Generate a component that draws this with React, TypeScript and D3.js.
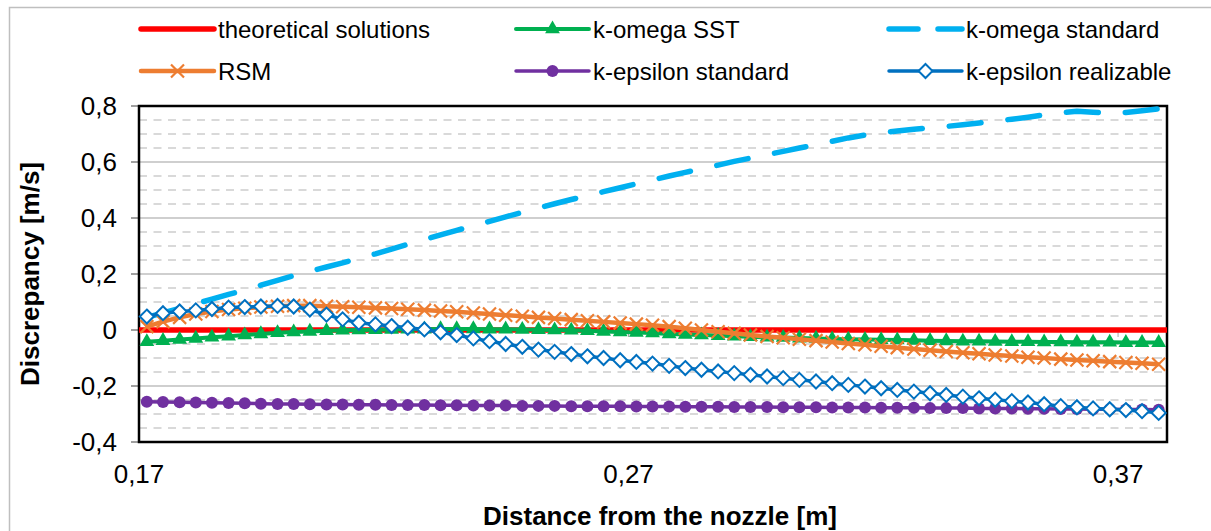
import React from "react";
import * as d3 from "d3";

// distance from the nozzle [m]
const distance = [
  0.1716, 0.1749, 0.1783, 0.1816, 0.1849, 0.1883, 0.1916, 0.1949, 0.1983, 0.2016,
  0.2049, 0.2083, 0.2116, 0.2149, 0.2183, 0.2216, 0.2249, 0.2283, 0.2316, 0.2349,
  0.2383, 0.2416, 0.2449, 0.2483, 0.2516, 0.2549, 0.2583, 0.2616, 0.2649, 0.2683,
  0.2716, 0.2749, 0.2783, 0.2816, 0.2849, 0.2883, 0.2916, 0.2949, 0.2983, 0.3016,
  0.3049, 0.3083, 0.3116, 0.3149, 0.3183, 0.3216, 0.3249, 0.3283, 0.3316, 0.3349,
  0.3383, 0.3416, 0.3449, 0.3483, 0.3516, 0.3549, 0.3583, 0.3616, 0.3649, 0.3683,
  0.3716, 0.3749, 0.3783,
];

const theoryDistance = [0.17, 0.38];
const theoretical = [0, 0];

const kOmegaSST = [
  -0.042, -0.038, -0.034, -0.030, -0.026, -0.022, -0.018, -0.014, -0.010, -0.007,
  -0.005, -0.003, -0.001, 0.000, 0.001, 0.002, 0.003, 0.003, 0.004, 0.004,
  0.004, 0.003, 0.003, 0.002, 0.001, 0.000, -0.001, -0.003, -0.005, -0.007,
  -0.009, -0.011, -0.014, -0.016, -0.018, -0.020, -0.022, -0.024, -0.026, -0.027,
  -0.029, -0.030, -0.032, -0.033, -0.034, -0.035, -0.036, -0.037, -0.038, -0.039,
  -0.040, -0.040, -0.041, -0.042, -0.042, -0.043, -0.043, -0.044, -0.044, -0.044,
  -0.045, -0.045, -0.045,
];

const kOmegaStandard = [
  0.045, 0.061, 0.077, 0.094, 0.110, 0.127, 0.143, 0.160, 0.177, 0.194,
  0.210, 0.225, 0.240, 0.256, 0.272, 0.289, 0.306, 0.323, 0.340, 0.356,
  0.372, 0.388, 0.404, 0.420, 0.436, 0.451, 0.466, 0.480, 0.494, 0.508,
  0.522, 0.536, 0.550, 0.563, 0.576, 0.589, 0.602, 0.614, 0.626, 0.638,
  0.650, 0.662, 0.674, 0.686, 0.696, 0.704, 0.711, 0.717, 0.722, 0.727,
  0.733, 0.739, 0.746, 0.753, 0.760, 0.768, 0.776, 0.781, 0.778, 0.775,
  0.777, 0.783, 0.790,
];

const rsm = [
  0.012, 0.030, 0.045, 0.057, 0.066, 0.073, 0.078, 0.082, 0.085, 0.087,
  0.087, 0.085, 0.083, 0.081, 0.079, 0.077, 0.074, 0.071, 0.068, 0.065,
  0.061, 0.057, 0.053, 0.049, 0.045, 0.041, 0.037, 0.033, 0.029, 0.025,
  0.021, 0.017, 0.012, 0.006, 0.000, -0.006, -0.012, -0.018, -0.023, -0.028,
  -0.033, -0.038, -0.043, -0.048, -0.053, -0.058, -0.063, -0.068, -0.072, -0.077,
  -0.081, -0.085, -0.089, -0.093, -0.097, -0.100, -0.104, -0.107, -0.110, -0.113,
  -0.116, -0.119, -0.122,
];

const kEpsilonStandard = [
  -0.256, -0.257, -0.258, -0.259, -0.260, -0.261, -0.262, -0.263, -0.264, -0.264,
  -0.265, -0.266, -0.266, -0.267, -0.267, -0.268, -0.268, -0.268, -0.269, -0.269,
  -0.270, -0.270, -0.270, -0.271, -0.271, -0.271, -0.272, -0.272, -0.272, -0.272,
  -0.273, -0.273, -0.273, -0.274, -0.274, -0.274, -0.275, -0.275, -0.275, -0.276,
  -0.276, -0.276, -0.277, -0.277, -0.277, -0.278, -0.278, -0.278, -0.279, -0.279,
  -0.279, -0.280, -0.280, -0.280, -0.281, -0.281, -0.282, -0.282, -0.283, -0.283,
  -0.284, -0.284, -0.285,
];

const kEpsilonRealizable = [
  0.048, 0.060, 0.066, 0.070, 0.075, 0.080, 0.082, 0.084, 0.086, 0.084,
  0.073, 0.055, 0.038, 0.026, 0.020, 0.014, 0.008, 0.002, -0.008, -0.018,
  -0.030, -0.040, -0.050, -0.060, -0.070, -0.078, -0.086, -0.094, -0.100, -0.108,
  -0.114, -0.120, -0.128, -0.136, -0.142, -0.148, -0.154, -0.160, -0.166, -0.172,
  -0.178, -0.184, -0.190, -0.196, -0.202, -0.208, -0.214, -0.220, -0.226, -0.232,
  -0.238, -0.244, -0.249, -0.254, -0.259, -0.265, -0.272, -0.276, -0.280, -0.283,
  -0.286, -0.290, -0.296,
];

const xTickValues = [0.17, 0.27, 0.37];

type Marker = "none" | "triangle" | "x" | "circle" | "diamond";

interface Series {
  name: string;
  xs: number[];
  ys: number[];
  color: string;
  width: number;
  dash?: string;
  marker: Marker;
}

const series: Series[] = [
  { name: "theoretical solutions", xs: theoryDistance, ys: theoretical, color: "#FF0000", width: 5.5, marker: "none" },
  { name: "k-omega SST", xs: distance, ys: kOmegaSST, color: "#00B050", width: 4, marker: "triangle" },
  { name: "k-omega standard", xs: distance, ys: kOmegaStandard, color: "#00B0F0", width: 5.5, dash: "32 27", marker: "none" },
  { name: "RSM", xs: distance, ys: rsm, color: "#ED7D31", width: 4.5, marker: "x" },
  { name: "k-epsilon standard", xs: distance, ys: kEpsilonStandard, color: "#7030A0", width: 3.5, marker: "circle" },
  { name: "k-epsilon realizable", xs: distance, ys: kEpsilonRealizable, color: "#0070C0", width: 3.5, marker: "diamond" },
];

const FONT = "'Liberation Sans', Arial, Helvetica, sans-serif";

function MarkerShape({ type, cx, cy, color }: { type: Marker; cx: number; cy: number; color: string }) {
  if (type === "triangle") {
    const p = d3.symbol().type(d3.symbolTriangle).size(95)();
    return <path d={p || ""} transform={`translate(${cx},${cy})`} fill={color} />;
  }
  if (type === "circle") {
    return <circle cx={cx} cy={cy} r={6} fill={color} />;
  }
  if (type === "diamond") {
    const r = 7;
    return (
      <path
        d={`M${cx},${cy - r}L${cx + r},${cy}L${cx},${cy + r}L${cx - r},${cy}Z`}
        fill="#FFFFFF"
        stroke={color}
        strokeWidth={2}
      />
    );
  }
  if (type === "x") {
    const r = 6.5;
    return (
      <path
        d={`M${cx - r},${cy - r}L${cx + r},${cy + r}M${cx - r},${cy + r}L${cx + r},${cy - r}`}
        stroke={color}
        strokeWidth={2.2}
        fill="none"
      />
    );
  }
  return null;
}

export default function App() {
  const width = 1211;
  const height = 531;
  const plot = { left: 139, right: 1167, top: 106, bottom: 442 };

  const x = d3.scaleLinear().domain([0.17, 0.38]).range([plot.left, plot.right]);
  const y = d3.scaleLinear().domain([-0.4, 0.8]).range([plot.bottom, plot.top]);

  const locale = d3.formatLocale({ decimal: ",", thousands: ".", grouping: [3], currency: ["", ""], minus: "-" });
  const fmt = locale.format("~g");

  const majorTicks = y.ticks(6);
  const minorTicks = y.ticks(24).filter((t) => !majorTicks.some((m) => Math.abs(m - t) < 1e-9));

  const line = d3
    .line<[number, number]>()
    .x((d) => x(d[0]))
    .y((d) => y(d[1]));

  const legendCols = [141, 516, 889];
  const legendRows = [29, 71];
  const sampleLen = 73;

  return (
    <div style={{ position: "absolute", left: 0, top: 0 }}>
      <svg width={width} height={height} style={{ display: "block", background: "#FFFFFF" }} fontFamily={FONT}>
        {/* chart area border */}
        <rect x={9.5} y={7.5} width={1400} height={800} fill="none" stroke="#BFBFBF" strokeWidth={1.5} />

        {/* minor gridlines */}
        {minorTicks.map((t) => (
          <line
            key={"mn" + t}
            x1={plot.left}
            x2={plot.right}
            y1={y(t)}
            y2={y(t)}
            stroke="#D9D9D9"
            strokeWidth={2}
            strokeDasharray="8 6.5"
          />
        ))}
        {/* major gridlines */}
        {majorTicks.map((t) => (
          <line key={"mj" + t} x1={plot.left} x2={plot.right} y1={y(t)} y2={y(t)} stroke="#BFBFBF" strokeWidth={1.3} />
        ))}

        {/* y ticks and labels */}
        {majorTicks.map((t) => (
          <g key={"yt" + t}>
            <line x1={plot.left - 8} x2={plot.left} y1={y(t)} y2={y(t)} stroke="#404040" strokeWidth={1} />
            <text x={117} y={y(t)} dy="0.36em" textAnchor="end" fontSize={26} fill="#000000">
              {fmt(t)}
            </text>
          </g>
        ))}

        {/* x ticks at the zero line and labels at the bottom */}
        {xTickValues.map((t) => (
          <g key={"xt" + t}>
            <line x1={x(t)} x2={x(t)} y1={y(0)} y2={y(0) + 7} stroke="#A6A6A6" strokeWidth={1} />
            <text x={x(t)} y={483} textAnchor="middle" fontSize={26} fill="#000000">
              {fmt(t)}
            </text>
          </g>
        ))}

        {/* plot area border */}
        <rect
          x={plot.left}
          y={plot.top}
          width={plot.right - plot.left}
          height={plot.bottom - plot.top}
          fill="none"
          stroke="#000000"
          strokeWidth={2.5}
        />

        {/* series */}
        {series.map((s) => {
          const pts: [number, number][] = s.xs.map((v, i) => [v, s.ys[i]]);
          return (
            <g key={s.name}>
              <path
                d={line(pts) || ""}
                fill="none"
                stroke={s.color}
                strokeWidth={s.width}
                strokeLinejoin="round"
                strokeLinecap={s.dash ? "round" : "butt"}
                strokeDasharray={s.dash}
              />
              {s.marker !== "none" &&
                pts.map((p, i) => <MarkerShape key={i} type={s.marker} cx={x(p[0])} cy={y(p[1])} color={s.color} />)}
            </g>
          );
        })}

        {/* axis titles */}
        <text x={660} y={525} textAnchor="middle" fontSize={26} fontWeight="bold" fill="#000000">
          Distance from the nozzle [m]
        </text>
        <text
          transform={`translate(39,${(plot.top + plot.bottom) / 2}) rotate(-90)`}
          textAnchor="middle"
          fontSize={26}
          fontWeight="bold"
          fill="#000000"
        >
          Discrepancy [m/s]
        </text>

        {/* legend */}
        {series.map((s, i) => {
          const lx = legendCols[i % 3];
          const ly = legendRows[Math.floor(i / 3)];
          return (
            <g key={"lg" + s.name}>
              <line
                x1={lx}
                x2={lx + sampleLen}
                y1={ly}
                y2={ly}
                stroke={s.color}
                strokeWidth={s.width}
                strokeLinecap="round"
                strokeDasharray={s.dash ? "29 20" : undefined}
              />
              {s.marker !== "none" && (
                <MarkerShape type={s.marker} cx={lx + sampleLen / 2} cy={ly} color={s.color} />
              )}
              <text x={lx + sampleLen + 4} y={ly} dy="0.36em" fontSize={24} fill="#000000">
                {s.name}
              </text>
            </g>
          );
        })}
      </svg>
    </div>
  );
}
